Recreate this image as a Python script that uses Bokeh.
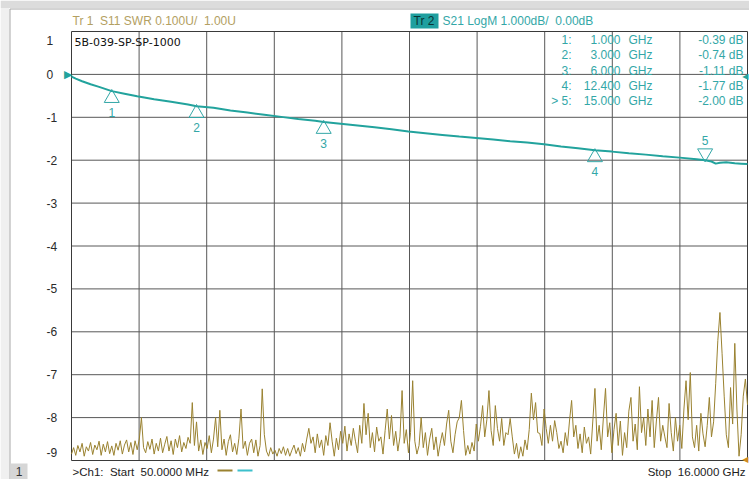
import numpy as np
from bokeh.plotting import figure
from bokeh.models import Range1d, Label
from bokeh.core.properties import value
from bokeh.embed import file_html
from bokeh.resources import INLINE

# ---------------- data ----------------
start_ghz = 0.05
stop_ghz = 16.0
y_ticks = [1, 0, -1, -2, -3, -4, -5, -6, -7, -8, -9]

# Trace 2: S21 LogM (dB)
s21_f = [0.05, 0.15, 0.3, 0.5, 0.7, 1.0, 1.3, 1.6, 2.0, 2.4, 2.8, 3.0, 3.4, 3.8, 4.2, 4.6,
         5.0, 5.4, 5.8, 6.0, 6.4, 6.8, 7.2, 7.6, 8.0, 8.4, 8.8, 9.2, 9.6, 10.0, 10.4, 10.8,
         11.2, 11.6, 12.0, 12.4, 12.8, 13.2, 13.6, 14.0, 14.4, 14.8, 15.0, 15.15, 15.25,
         15.35, 15.5, 15.7, 15.85, 16.0]
s21_db = [-0.05, -0.10, -0.16, -0.23, -0.29, -0.39, -0.45, -0.51, -0.58, -0.64, -0.70, -0.74,
          -0.78, -0.84, -0.89, -0.94, -0.99, -1.04, -1.08, -1.11, -1.15, -1.19, -1.23, -1.28,
          -1.33, -1.37, -1.41, -1.45, -1.48, -1.52, -1.56, -1.59, -1.63, -1.68, -1.72, -1.77,
          -1.80, -1.84, -1.87, -1.91, -1.94, -1.98, -2.00, -2.03, -2.08, -2.06, -2.05, -2.07,
          -2.08, -2.09]

# Trace 1: S11 SWR (linear sweep 50 MHz .. 16 GHz)
s11_swr = [
    1.015, 1.030, 1.012, 1.035, 1.020, 1.040, 1.010, 1.032, 1.022, 1.042, 1.014, 1.036, 1.025, 1.045, 1.012, 1.038, 1.020, 1.044, 1.016, 1.034,
    1.012, 1.040, 1.024, 1.046, 1.015, 1.036, 1.048, 1.020, 1.042, 1.014, 1.046, 1.025, 1.050, 1.100, 1.030, 1.018, 1.044, 1.026, 1.050, 1.015,
    1.040, 1.022, 1.052, 1.018, 1.038, 1.056, 1.022, 1.046, 1.014, 1.050, 1.030, 1.058, 1.020, 1.042, 1.028, 1.054, 1.040, 1.135, 1.035, 1.090,
    1.022, 1.048, 1.014, 1.042, 1.028, 1.058, 1.018, 1.050, 1.100, 1.032, 1.117, 1.025, 1.050, 1.012, 1.044, 1.060, 1.020, 1.040, 1.014, 1.052,
    1.120, 1.028, 1.045, 1.012, 1.040, 1.050, 1.018, 1.048, 1.010, 1.035, 1.167, 1.060, 1.022, 1.010, 1.030, 1.015, 1.024, 1.010, 1.028, 1.016,
    1.032, 1.012, 1.028, 1.010, 1.024, 1.036, 1.016, 1.030, 1.010, 1.040, 1.020, 1.050, 1.075, 1.040, 1.055, 1.018, 1.062, 1.030, 1.048, 1.012,
    1.058, 1.035, 1.088, 1.045, 1.010, 1.052, 1.025, 1.068, 1.040, 1.080, 1.022, 1.062, 1.035, 1.075, 1.045, 1.018, 1.082, 1.040, 1.133, 1.060,
    1.110, 1.030, 1.065, 1.020, 1.078, 1.045, 1.055, 1.015, 1.070, 1.120, 1.050, 1.105, 1.035, 1.068, 1.022, 1.055, 1.163, 1.040, 1.072, 1.018,
    1.065, 1.186, 1.045, 1.015, 1.035, 1.100, 1.030, 1.065, 1.012, 1.050, 1.075, 1.025, 1.055, 1.010, 1.040, 1.065, 1.035, 1.085, 1.117, 1.045,
    1.018, 1.060, 1.090, 1.100, 1.140, 1.070, 1.012, 1.035, 1.015, 1.042, 1.022, 1.085, 1.045, 1.080, 1.128, 1.055, 1.095, 1.163, 1.070, 1.035,
    1.128, 1.075, 1.045, 1.098, 1.035, 1.065, 1.060, 1.098, 1.055, 1.015, 1.040, 1.005, 1.032, 1.010, 1.048, 1.025, 1.072, 1.157, 1.095, 1.135,
    1.065, 1.063, 1.035, 1.120, 1.075, 1.040, 1.082, 1.045, 1.093, 1.065, 1.028, 1.045, 1.018, 1.065, 1.035, 1.092, 1.140, 1.055, 1.082, 1.028,
    1.062, 1.018, 1.078, 1.040, 1.055, 1.015, 1.092, 1.168, 1.045, 1.082, 1.025, 1.100, 1.168, 1.055, 1.088, 1.018, 1.072, 1.110, 1.035, 1.092,
    1.012, 1.065, 1.030, 1.115, 1.147, 1.045, 1.085, 1.025, 1.172, 1.065, 1.100, 1.035, 1.120, 1.055, 1.140, 1.030, 1.092, 1.147, 1.045, 1.082,
    1.055, 1.030, 1.133, 1.065, 1.022, 1.100, 1.045, 1.082, 1.028, 1.120, 1.186, 1.095, 1.205, 1.055, 1.030, 1.082, 1.022, 1.110, 1.062, 1.032,
    1.082, 1.147, 1.055, 1.090, 1.180, 1.280, 1.345, 1.250, 1.150, 1.060, 1.030, 1.170, 1.085, 1.273, 1.120, 1.010, 1.060, 1.150, 1.190, 1.130,
]
s11_f = np.linspace(start_ghz, stop_ghz, len(s11_swr))

# markers on trace 2
mk_name = ["1:", "2:", "3:", "4:", "> 5:"]
mk_num = ["1", "2", "3", "4", "5"]
mk_f = [1.0, 3.0, 6.0, 12.4, 15.0]
mk_db = [-0.39, -0.74, -1.11, -1.77, -2.00]

# ---------------- styling / layout ----------------
TEAL = "#22a39d"
TEAL_T = "#33a7a7"
OLIVE = "#9a8230"
OLIVE_T = "#b3a062"
GRID = "#585858"
FONT = "Liberation Sans"
SP = "\u00a0"   # keeps double spaces in svg text

W, H = 749, 479
PL, PR, PT, PB = 71, 747, 31, 460   # plot area in page pixels
SWR_LO, SWR_HI = 1.0, 2.0           # Tr1 scale: 0.1 U/div, ref 1.00 U at bottom

def px2x(px):
    return start_ghz + (px - PL) * (stop_ghz - start_ghz) / (PR - PL)

def py2y(py):
    return 1 - (py - PT) * 10.0 / (PB - PT)

def py2swr(py):
    return SWR_LO + (PB - py) * (SWR_HI - SWR_LO) / (PB - PT)

p = figure(width=W, height=H,
           x_range=Range1d(px2x(0), px2x(W)), y_range=Range1d(py2y(H), py2y(0)),
           output_backend="svg", toolbar_location=None, title=None,
           min_border=0, min_border_left=0, min_border_right=0,
           min_border_top=0, min_border_bottom=0)
p.extra_y_ranges = {"swr": Range1d(py2swr(H), py2swr(0))}
p.axis.visible = False
p.grid.visible = False
p.outline_line_color = None
p.background_fill_color = "white"
p.border_fill_color = "white"

# window decoration
p.quad(left=px2x(0), right=px2x(W), bottom=py2y(7.5), top=py2y(0),
       fill_color="#dcdcdc", line_color=None)
p.quad(left=px2x(0), right=px2x(9), bottom=py2y(H), top=py2y(7.5),
       fill_color="#f0f0f0", line_color=None)
p.segment(x0=[px2x(9.5), px2x(9.5)], y0=[py2y(8.5), py2y(8.5)],
          x1=[px2x(9.5), px2x(W)], y1=[py2y(H), py2y(8.5)],
          line_color="#a8a8a8", line_width=1)

# grid
step = (stop_ghz - start_ghz) / 10
xv = [start_ghz + k * step for k in range(1, 10)]
yh = y_ticks[1:-1]
p.segment(x0=xv, y0=[y_ticks[-1]] * len(xv), x1=xv, y1=[y_ticks[0]] * len(xv),
          line_color=GRID, line_width=1)
p.segment(x0=[start_ghz] * len(yh), y0=yh, x1=[stop_ghz] * len(yh), y1=yh,
          line_color=GRID, line_width=1)
p.quad(left=start_ghz, right=stop_ghz, bottom=y_ticks[-1], top=y_ticks[0],
       fill_color=None, line_color="#3a3a3a", line_width=1)

# traces
p.line(s11_f, s11_swr, y_range_name="swr", line_color=OLIVE, line_width=1)
p.line(s21_f, s21_db, line_color=TEAL, line_width=2)

# marker triangles + numbers
dy = 10.0 / (PB - PT)
p.scatter(mk_f[:4], [d - 7 * dy for d in mk_db[:4]], marker="triangle", size=15,
          fill_color=None, line_color=TEAL_T, line_width=1)
p.scatter(mk_f[4:], [d + 7 * dy for d in mk_db[4:]], marker="inverted_triangle", size=15,
          fill_color=None, line_color=TEAL_T, line_width=1)
p.text(mk_f[:4], [d - 21 * dy for d in mk_db[:4]], text=mk_num[:4], text_color=TEAL_T,
       text_font=value(FONT), text_font_size="12px", text_align="center", text_baseline="middle")
p.text(mk_f[4:], [d + 20 * dy for d in mk_db[4:]], text=mk_num[4:], text_color=TEAL_T,
       text_font=value(FONT), text_font_size="12px", text_align="center", text_baseline="middle")

def lab(text, px, py, color, size="12px", align="left", font=FONT):
    p.add_layout(Label(x=px2x(px), y=py2y(py), text=text.replace("  ", SP + SP),
                       text_color=color, text_font_size=size, text_align=align,
                       text_baseline="middle", text_font=font))

# y tick labels
for t in y_ticks:
    py = PT + (1 - t) * (PB - PT) / 10.0
    if t == 1:
        py += 9
    if t == -9:
        py -= 8
    lab(str(t), 46, py, "#2a2a2a")

# header
lab("Tr 1  S11 SWR 0.100U/  1.00U", 72, 20, OLIVE_T)
p.quad(left=px2x(410), right=px2x(438), bottom=py2y(28), top=py2y(13),
       fill_color="#1f9f9f", line_color=None)
lab("Tr 2", 413, 20.5, "#0a3434")
lab("S21 LogM 1.000dB/  0.00dB", 442, 20, TEAL_T)
lab("5B-039-SP-SP-1000", 74, 42, "#111111", size="11px", font="DejaVu Sans")

# marker table
rows_y = [39, 54, 70, 85, 100]
for name, f, d, ry in zip(mk_name, mk_f, mk_db, rows_y):
    lab(name, 571, ry, TEAL_T, align="right")
    lab(f"{f:.3f}", 620, ry, TEAL_T, align="right")
    lab("GHz", 628, ry, TEAL_T)
    lab(f"{d:.2f} dB", 743, ry, TEAL_T, align="right")

# reference arrows
lab("\u25B6", 72, 74, TEAL, size="11px", align="right", font="DejaVu Sans")
lab("\u25C0", 748, 76, TEAL, size="8px", align="right", font="DejaVu Sans")
lab("\u25C0", 748, 459, "#d08a20", size="8px", align="right", font="DejaVu Sans")

# footer
p.quad(left=px2x(10), right=px2x(27), bottom=py2y(479), top=py2y(463),
       fill_color="#d6d6d6", line_color=None)
lab("1", 18.5, 471, "#333333", align="center")
lab(">Ch1:  Start  50.0000 MHz", 72, 471, "#222222", size="11.5px")
p.segment(x0=[px2x(217), px2x(237)], y0=[py2y(470)] * 2, x1=[px2x(232), px2x(252)],
          y1=[py2y(470)] * 2, line_color=[OLIVE, "#3cc0cc"], line_width=2)
lab("Stop  16.0000 GHz", 745, 471, "#222222", size="11.5px", align="right")

open("out.html", "w").write(file_html(p, INLINE))
